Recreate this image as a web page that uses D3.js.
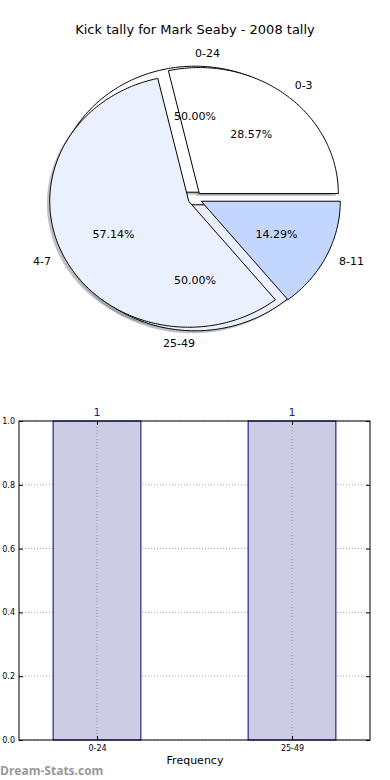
<!DOCTYPE html>
<html>
<head>
<meta charset="utf-8">
<script src="https://cdn.jsdelivr.net/npm/d3@7"></script>
<style>
  body { margin: 0; background: #fff; }
  svg { display: block; font-family: "DejaVu Sans", sans-serif; }
</style>
</head>
<body>
<svg id="chart" width="390" height="780"></svg>
<script>
// outer pie (score ranges) and inner pie (kick ranges)
const scoreLabels = ["0-24", "25-49"];
const scoreValues = [1, 1];
const kickLabels = ["0-3", "4-7", "8-11"];
const kickValues = [2, 4, 1];
const pieColors = ["#ffffff", "#eaf0fd", "#c3d6fe"];

// frequency bars
const barLabels = ["0-24", "25-49"];
const barValues = [1, 1];
const yTicks = [0, 0.2, 0.4, 0.6, 0.8, 1.0];

const titleText = "Kick tally for Mark Seaby - 2008 tally";

const svg = d3.select("#chart");

svg.append("text")
  .attr("x", 195).attr("y", 34)
  .attr("text-anchor", "middle")
  .style("font-size", "13px")
  .text(titleText);

// pie geometry (elliptical, like the stretched matplotlib axes)
const cx = 195, cy = 198.5, rx = 139, ry = 126;
const explode = 0.05;

// angles go counter-clockwise from 3 o'clock, like matplotlib
function slices(values) {
  const total = d3.sum(values);
  let a = 0;
  return values.map((v, i) => {
    const a0 = a;
    a += v / total * 2 * Math.PI;
    return { i, v, a0, a1: a, mid: (a0 + a) / 2, frac: v / total };
  });
}

function wedgePath(s, ox, oy) {
  const x0 = cx + ox + explode * rx * Math.cos(s.mid);
  const y0 = cy + oy - explode * ry * Math.sin(s.mid);
  const steps = Math.max(8, Math.ceil((s.a1 - s.a0) * 60));
  const pts = [[x0, y0]];
  for (let k = 0; k <= steps; k++) {
    const t = s.a0 + (s.a1 - s.a0) * k / steps;
    pts.push([x0 + rx * Math.cos(t), y0 - ry * Math.sin(t)]);
  }
  return d3.line()(pts) + "Z";
}

const pies = [
  { labels: scoreLabels, data: slices(scoreValues) },
  { labels: kickLabels, data: slices(kickValues) }
];

const pieG = svg.append("g");

// shadows sit under every wedge
pies.forEach(p => {
  pieG.selectAll(null).data(p.data).enter().append("path")
    .attr("d", s => wedgePath(s, -0.02 * rx, 0.02 * ry))
    .attr("fill", s => d3.rgb(pieColors[s.i]).darker(1.7))
    .attr("fill-opacity", 0.5)
    .attr("stroke", "none");
});

pies.forEach(p => {
  pieG.selectAll(null).data(p.data).enter().append("path")
    .attr("d", s => wedgePath(s, 0, 0))
    .attr("fill", s => pieColors[s.i])
    .attr("stroke", "#000")
    .attr("stroke-width", 1)
    .attr("stroke-linejoin", "miter");
});

pies.forEach(p => {
  p.data.forEach(s => {
    const c = Math.cos(s.mid), sn = Math.sin(s.mid);
    const ox = cx + explode * rx * c, oy = cy - explode * ry * sn;
    pieG.append("text")
      .attr("x", ox + 1.1 * rx * c)
      .attr("y", oy - 1.1 * ry * sn)
      .attr("dy", "0.35em")
      .attr("text-anchor", c > 0 ? "start" : "end")
      .style("font-size", "11px")
      .text(p.labels[s.i]);
    pieG.append("text")
      .attr("x", ox + 0.6 * rx * c)
      .attr("y", oy - 0.6 * ry * sn)
      .attr("dy", "0.35em")
      .attr("text-anchor", "middle")
      .style("font-size", "11px")
      .text((s.frac * 100).toFixed(2) + "%");
  });
});

// ---- bar chart ----
const plotL = 19, plotR = 370, plotT = 421, plotB = 740;
const x = d3.scaleLinear().domain([-0.4, 1.4]).range([plotL, plotR]);
const y = d3.scaleLinear().domain([0, 1]).range([plotB, plotT]);
const barW = 0.45;

const barG = svg.append("g");

// grid
barG.selectAll(null).data(yTicks).enter().append("line")
  .attr("x1", plotL).attr("x2", plotR)
  .attr("y1", d => y(d)).attr("y2", d => y(d))
  .attr("stroke", "#aaa").attr("stroke-dasharray", "1,2");

barG.selectAll(null).data(barLabels).enter().append("rect")
  .attr("x", (d, i) => x(i - barW / 2))
  .attr("width", x(barW) - x(0))
  .attr("y", (d, i) => y(barValues[i]))
  .attr("height", (d, i) => y(0) - y(barValues[i]))
  .attr("fill", "#ccccE5")
  .attr("stroke", "#000080")
  .attr("stroke-width", 1);

barG.selectAll(null).data(barLabels).enter().append("line")
  .attr("x1", (d, i) => x(i)).attr("x2", (d, i) => x(i))
  .attr("y1", plotT).attr("y2", plotB)
  .attr("stroke", "#999").attr("stroke-dasharray", "1,2");

barG.append("rect")
  .attr("x", plotL).attr("y", plotT)
  .attr("width", plotR - plotL).attr("height", plotB - plotT)
  .attr("fill", "none").attr("stroke", "#000");

// y axis with inward ticks on both sides
barG.append("g")
  .attr("transform", `translate(${plotL},0)`)
  .call(d3.axisLeft(y).tickValues(yTicks).tickFormat(d3.format(".1f")).tickSizeInner(-4).tickSizeOuter(0).tickPadding(4))
  .call(g => g.select(".domain").remove())
  .call(g => g.selectAll("text").style("font-size", "8px").style("font-family", "DejaVu Sans"));

barG.append("g")
  .attr("transform", `translate(${plotR},0)`)
  .call(d3.axisRight(y).tickValues(yTicks).tickFormat("").tickSizeInner(-4).tickSizeOuter(0))
  .call(g => g.select(".domain").remove());

barG.append("g")
  .attr("transform", `translate(0,${plotB})`)
  .call(d3.axisBottom(x).tickValues([0, 1]).tickFormat((d, i) => barLabels[i]).tickSizeInner(-4).tickSizeOuter(0).tickPadding(5))
  .call(g => g.select(".domain").remove())
  .call(g => g.selectAll("text").style("font-size", "8px").style("font-family", "DejaVu Sans"));

barG.append("g")
  .attr("transform", `translate(0,${plotT})`)
  .call(d3.axisTop(x).tickValues([0, 1]).tickFormat("").tickSizeInner(-4).tickSizeOuter(0))
  .call(g => g.select(".domain").remove());

barG.selectAll(null).data(barValues).enter().append("text")
  .attr("x", (d, i) => x(i))
  .attr("y", d => y(d) - 5)
  .attr("text-anchor", "middle")
  .attr("fill", "#1a1a99")
  .style("font-size", "11px")
  .text(d => d);

svg.append("text")
  .attr("x", 195).attr("y", 764)
  .attr("text-anchor", "middle")
  .style("font-size", "11px")
  .text("Frequency");

svg.append("text")
  .attr("x", 0).attr("y", 775)
  .attr("fill", "#999")
  .style("font-size", "12px")
  .style("font-weight", "bold")
  .style("font-family", "'Open Sans', sans-serif")
  .text("Dream-Stats.com");
</script>
</body>
</html>
